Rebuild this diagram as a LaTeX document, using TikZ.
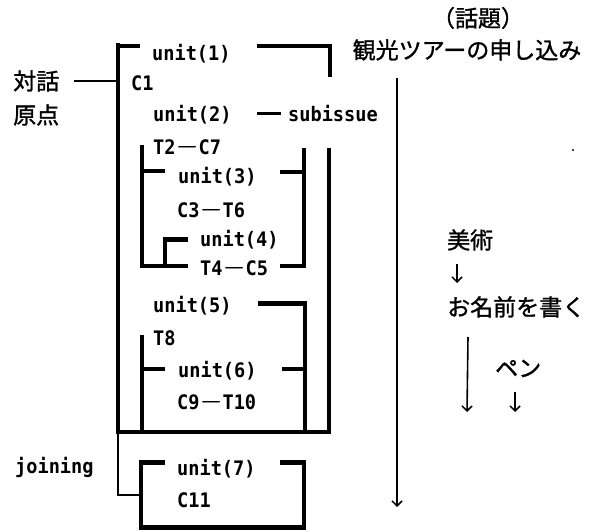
\documentclass[tikz,border=0pt]{standalone}
\usepackage{fontspec}
\newfontfamily\cjk{Noto Sans CJK JP}[FakeBold=1.2]
\newfontfamily\monofam{DejaVu Sans Mono}[FakeStretch=0.93]
\usetikzlibrary{arrows.meta}
\newcommand\jdash{\kern1.5pt{\cjk ―}\kern1.5pt}
\newcommand\vseg[3]{\path[barseg] (#1-2.4,#2) rectangle (#1+2.4,#3);}
\newcommand\hseg[3]{\path[barseg] (#2,#1-2.3) rectangle (#3,#1+2.3);}
\tikzset{
  mono/.style={font=\monofam\bfseries\fontsize{20}{21}\selectfont, inner sep=0pt, text height=14.6pt, text depth=0pt, anchor=west},
  jp/.style={font=\cjk\fontsize{23}{24}\selectfont, inner sep=0pt, text height=20.2pt, text depth=2.8pt},
  barseg/.style={fill=black},
  thinrule/.style={line width=1.1pt},
  arr/.style={line width=1.6pt, -{Straight Barb[length=5pt,width=10pt,line width=1.5pt]}},
}
\begin{document}
\begin{tikzpicture}[x=1pt,y=-1pt]
\useasboundingbox[fill=white] (0,0) rectangle (595,532);

% ---- bracket bars ----
\vseg{118}{43.5}{434}
\vseg{330}{44}{77}
\vseg{142}{145}{268.3}
\vseg{165}{237}{268.3}
\vseg{304}{148}{268.3}
\vseg{329}{148}{434}
\vseg{142}{335}{434}
\vseg{305}{301}{434}
\vseg{141}{460}{529.8}
\vseg{304}{460}{529.8}

\hseg{46}{118}{140}
\hseg{46}{257}{332.4}
\path[barseg] (257,111.8) rectangle (281,115.4);
\hseg{171}{142}{165}
\hseg{172}{280}{306.4}
\hseg{239.5}{165}{188}
\hseg{266}{139.6}{188}
\hseg{266}{280}{306.4}
\hseg{303.5}{258}{307.4}
\hseg{369}{142}{165}
\hseg{369}{282}{307.4}
\hseg{432}{115.6}{331.4}
\hseg{462.5}{138.6}{165}
\hseg{462.5}{280}{306.4}
\hseg{527.5}{138.6}{306.4}

% ---- texts ----
\node[mono] (u1) at (152,53) {unit(1)};
\node[mono] (c1) at (131,83) {C1};
\node[mono] (u2) at (153,114) {unit(2)};
\node[mono] (sub) at (288,114) {subissue};
\node[mono] (t2) at (153,147) {T2\jdash C7};
\node[mono] (u3) at (178,176) {unit(3)};
\node[mono] (c3) at (177,210) {C3\jdash T6};
\node[mono] (u4) at (200,239) {unit(4)};
\node[mono] (t4) at (200,268) {T4\jdash C5};
\node[mono] (u5) at (153,305) {unit(5)};
\node[mono] (t8) at (153,338) {T8};
\node[mono] (u6) at (178,370) {unit(6)};
\node[mono] (c9) at (177,402) {C9\jdash T10};
\node[mono] (u7) at (177,468) {unit(7)};
\node[mono] (c11) at (177,500) {C11};
\node[mono] (join) at (15,466) {joining};

\node[jp, anchor=west] (taiwa) at (13,81) {対話};
\node[jp, anchor=west] (genten) at (13,115) {原点};
\node[jp] (wadai) at (478,18) {（話題）};
\node[jp] (kanko) at (467,50) {観光ツアーの申し込み};
\node[jp, anchor=west] (bijutsu) at (447,240) {美術};
\node[jp, anchor=west] (onamae) at (447,307) {お名前を書く};
\node[jp, anchor=west] (pen) at (495,368) {ペン};

% ---- thin connectors ----
\coordinate (outerL) at (116,79);
\draw[thinrule] ([xshift=15pt]taiwa.east) -- (taiwa.east -| outerL);
\coordinate (joinTop) at (118,432);
\coordinate (joinEnd) at (139,495);
\draw[thinrule] (joinTop) |- (joinEnd);

% ---- arrows ----
\coordinate (a1s) at (397,78);
\coordinate (a1e) at (397,507);
\draw[arr] (a1s) -- (a1e);
\coordinate (a2s) at (468,337);
\coordinate (a2e) at (467,412);
\draw[arr] (a2s) -- (a2e);
\coordinate (a3s) at (515,392);
\coordinate (a3e) at (515,412);
\draw[arr] (a3s) -- (a3e);
\coordinate (a4s) at (457,264);
\coordinate (a4e) at (457,283);
\draw[arr, line width=1.3pt] (a4s) -- (a4e);

% speck
\fill (573,150) circle (1.2);
\end{tikzpicture}
\end{document}
